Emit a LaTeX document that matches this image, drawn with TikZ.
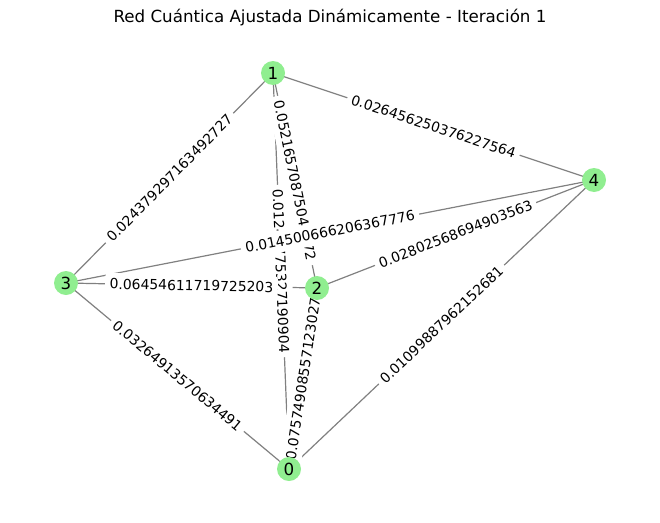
\documentclass[tikz,border=0pt]{standalone}
\usepackage{fontspec}
\setmainfont{DejaVu Sans}
\usepackage{tikz}
\definecolor{nodegreen}{RGB}{144,238,144}
\definecolor{edgegray}{RGB}{128,128,128}

\begin{document}
\begin{tikzpicture}[x=1pt,y=-1pt,
  every node/.style={circle, fill=nodegreen, minimum size=24pt, inner sep=0pt, font=\fontsize{16.7}{20}\selectfont},
  weight/.style={rectangle, fill=white, rounded corners=3pt, inner xsep=4.5pt, inner ysep=0pt, minimum size=0pt, minimum height=22pt, sloped, midway, font=\fontsize{13.9}{16}\selectfont},
  edge/.style={draw=edgegray, line width=1.2pt}]
\useasboundingbox (0,0) rectangle (660,522);
% Title
\node[rectangle, fill=none, minimum size=0pt] (title) at (330,18) {Red Cuántica Ajustada Dinámicamente - Iteración 1};

% Points (positions only, drawn last)
\coordinate (0) at (289,469);
\coordinate (1) at (273,73);
\coordinate (2) at (317,288);
\coordinate (3) at (66,283);
\coordinate (4) at (594,180);

%Lines
\draw[edge] (0) -- (1);
\draw[edge] (0) -- (2);
\draw[edge] (0) -- (3);
\draw[edge] (0) -- (4);
\draw[edge] (1) -- (2);
\draw[edge] (1) -- (3);
\draw[edge] (1) -- (4);
\draw[edge] (2) -- (3);
\draw[edge] (2) -- (4);
\draw[edge] (3) -- (4);

%Weights
\path (0) -- node[weight] {0.01240775327190904} (1);
\path (0) -- node[weight] {0.07574908557123027} (2);
\path (0) -- node[weight] {0.03264913570634491} (3);
\path (0) -- node[weight] {0.01099887962152681} (4);
\path (1) -- node[weight] {0.05216570875041372} (2);
\path (1) -- node[weight] {0.024379297163492727} (3);
\path (1) -- node[weight] {0.026456250376227564} (4);
\path (2) -- node[weight] {0.06454611719725203} (3);
\path (2) -- node[weight] {0.02802568694903563} (4);
\path (3) -- node[weight] {0.014500666206367776} (4);

% Nodes
\node (n0) at (0) {0};
\node (n1) at (1) {1};
\node (n2) at (2) {2};
\node (n3) at (3) {3};
\node (n4) at (4) {4};
\end{tikzpicture}
\end{document}
